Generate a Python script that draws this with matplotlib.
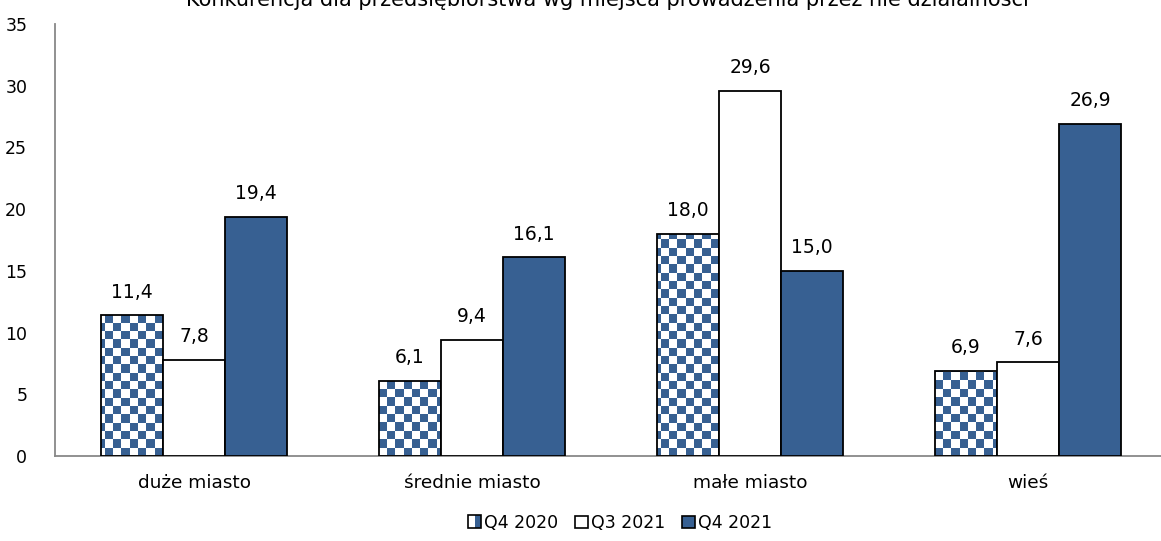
import numpy as np
import matplotlib
matplotlib.use("Agg")
import matplotlib.pyplot as plt
from matplotlib.patches import Rectangle
from matplotlib.legend_handler import HandlerBase
from matplotlib.colors import ListedColormap

categories = ["duże miasto", "średnie miasto", "małe miasto", "wieś"]
series_names = ["Q4 2020", "Q3 2021", "Q4 2021"]
q4_2020 = [11.4, 6.1, 18.0, 6.9]
q3_2021 = [7.8, 9.4, 29.6, 7.6]
q4_2021 = [19.4, 16.1, 15.0, 26.9]
title = "Konkurencja dla przedsiębiorstwa wg miejsca prowadzenia przez nie działalności"

blue = "#376092"
plt.rcParams["font.family"] = ["DejaVu Sans"]
fs = 12.5

W, H = 1161, 541
fig = plt.figure(figsize=(W / 100, H / 100), dpi=100)
ax_l, ax_b, ax_w, ax_h = 55, 85, 1112, 432
ax = fig.add_axes([ax_l / W, ax_b / H, ax_w / W, ax_h / H])

x = np.arange(len(categories))
bw = 0.223
ymax = 35

b1 = ax.bar(x - bw, q4_2020, bw, facecolor="none", edgecolor="black", lw=1.3, zorder=3)
b2 = ax.bar(x, q3_2021, bw, facecolor="white", edgecolor="black", lw=1.3, zorder=3)
b3 = ax.bar(x + bw, q4_2021, bw, facecolor=blue, edgecolor="black", lw=1.3, zorder=3)

# checkerboard fill, about 8 px per cell, clipped to each bar
cell = 8.3
nx = int(round(ax_w / cell))
ny = int(round(ax_h / cell))
checker = (np.add.outer(np.arange(ny), np.arange(nx)) % 2)
cmap = ListedColormap(["white", blue])
for bar in b1:
    im = ax.imshow(checker, cmap=cmap, interpolation="nearest", aspect="auto",
                   extent=(-0.5, len(categories) - 0.5, 0, ymax), zorder=2)
    im.set_clip_path(bar)

for bars, vals in [(b1, q4_2020), (b2, q3_2021), (b3, q4_2021)]:
    for bar, v in zip(bars, vals):
        ax.text(bar.get_x() + bar.get_width() / 2, v + 1.1, f"{v:.1f}".replace(".", ","),
                ha="center", va="bottom", fontsize=13.5)

ax.set_xlim(-0.5, len(categories) - 0.5)
ax.set_ylim(0, ymax)
ax.set_yticks(np.arange(0, 36, 5))
ax.set_xticks(x)
ax.set_xticklabels(categories, fontsize=13.3)
ax.tick_params(axis="both", length=0)
ax.tick_params(axis="y", pad=20, labelsize=fs)
ax.tick_params(axis="x", pad=13)
for s in ["top", "right"]:
    ax.spines[s].set_visible(False)
for s in ["left", "bottom"]:
    ax.spines[s].set_color("#888888")
    ax.spines[s].set_linewidth(1.3)


class HalfHandler(HandlerBase):
    def create_artists(self, legend, orig_handle, xd, yd, width, height, fontsize, trans):
        s = height
        x0 = xd + width - s
        left = Rectangle((x0, yd), s / 2, s, facecolor="white", edgecolor="none", transform=trans)
        right = Rectangle((x0 + s / 2, yd), s / 2, s, facecolor=blue, edgecolor="none", transform=trans)
        box = Rectangle((x0, yd), s, s, facecolor="none", edgecolor="black", lw=1.2, transform=trans)
        return [left, right, box]


h1 = Rectangle((0, 0), 1, 1)
h2 = Rectangle((0, 0), 1, 1, facecolor="white", edgecolor="black", lw=1.2)
h3 = Rectangle((0, 0), 1, 1, facecolor=blue, edgecolor="black", lw=1.2)
fig.legend([h1, h2, h3], series_names, loc="center", bbox_to_anchor=(620 / W, 1 - 523 / H),
           ncol=3, frameon=False, fontsize=fs, handlelength=0.75, handleheight=0.75,
           handletextpad=0.15, columnspacing=1.0, handler_map={h1: HalfHandler()})

fig.text(607 / W, 1 - 6 / H, title, ha="center", va="baseline", fontsize=15)

fig.savefig("out.png", dpi=100)
